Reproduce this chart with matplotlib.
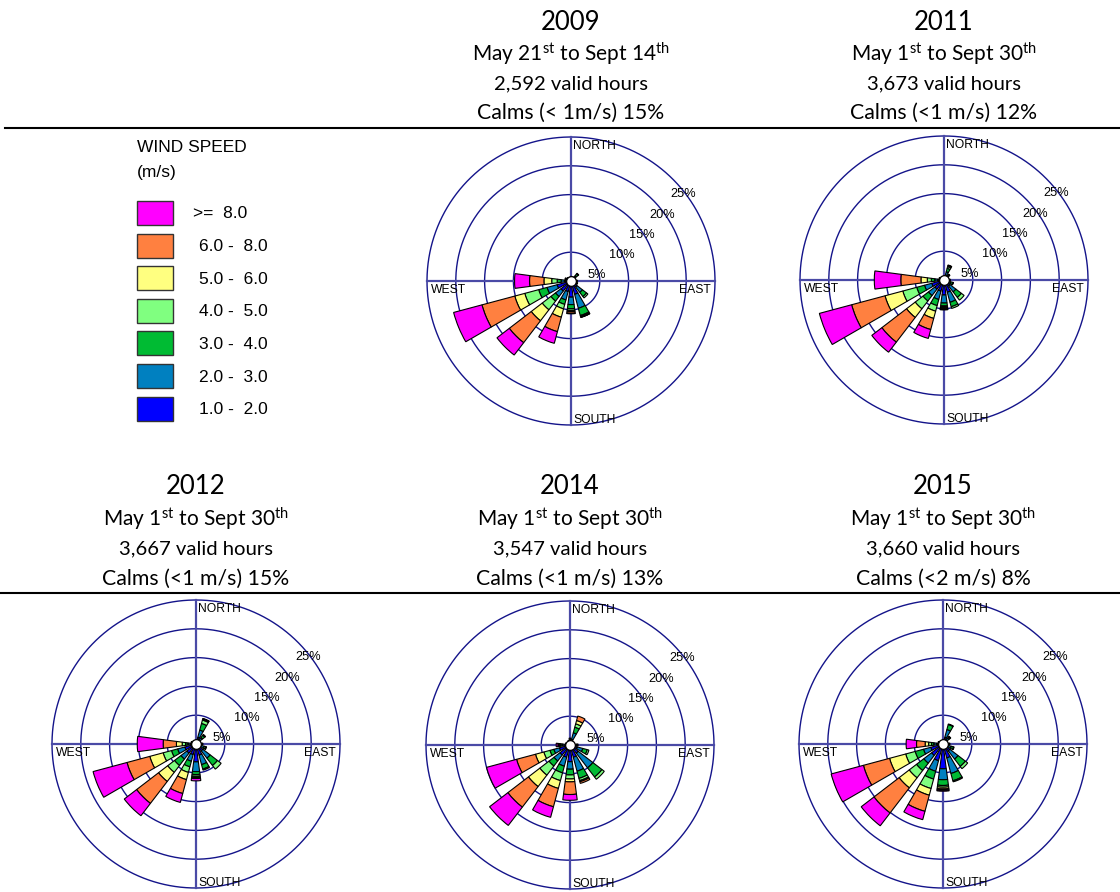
import numpy as np
import matplotlib
matplotlib.use("Agg")
import matplotlib.pyplot as plt
from matplotlib.patches import Rectangle
from matplotlib.lines import Line2D

plt.rcParams["mathtext.fontset"] = "custom"
plt.rcParams["mathtext.rm"] = "Lato"
plt.rcParams["mathtext.it"] = "Lato:italic"
plt.rcParams["mathtext.bf"] = "Lato:bold"

# ---------------- data ----------------
directions = ["N", "NNE", "NE", "ENE", "E", "ESE", "SE", "SSE",
              "S", "SSW", "SW", "WSW", "W", "WNW", "NW", "NNW"]
dir_angles = [0, 22.5, 45, 67.5, 90, 112.5, 135, 157.5,
              180, 202.5, 225, 247.5, 270, 292.5, 315, 337.5]
speed_labels = ["1.0 -  2.0", "2.0 -  3.0", "3.0 -  4.0", "4.0 -  5.0",
                "5.0 -  6.0", "6.0 -  8.0", ">=  8.0"]
speed_colors = ["#0000FF", "#0080C0", "#00BB33", "#80FF80",
                "#FFFF80", "#FF8040", "#FF00FF"]

# frequency (%) per direction (rows, N..NNW) and speed class (cols, 1-2 .. >=8)
freq_2009 = [
    [0.4, 0.3, 0.1, 0, 0, 0, 0],
    [0.4, 0.3, 0.1, 0, 0, 0, 0],
    [0.6, 0.6, 0.4, 0.1, 0, 0, 0],
    [0.4, 0.3, 0.1, 0, 0, 0, 0],
    [0.5, 0.4, 0.2, 0, 0, 0, 0],
    [0.6, 0.4, 0.2, 0, 0, 0, 0],
    [1.3, 1.2, 0.9, 0.3, 0, 0, 0],
    [2.4, 2.5, 1.3, 0.2, 0.1, 0.05, 0],
    [2.8, 1.3, 0.7, 0.3, 0.2, 0.3, 0.1],
    [1.9, 1.5, 0.8, 0.8, 1.5, 2.6, 2.1],
    [2.2, 1.2, 1.0, 1.9, 2.4, 4.8, 2.7],
    [2.5, 1.8, 1.5, 2.5, 1.8, 5.9, 5.1],
    [1.1, 0.6, 0.7, 0.95, 1.35, 2.5, 2.6],
    [0.5, 0.3, 0.2, 0.1, 0, 0, 0],
    [0.4, 0.3, 0.1, 0, 0, 0, 0],
    [0.4, 0.2, 0.1, 0, 0, 0, 0],
]
freq_2011 = [
    [0.4, 0.2, 0.1, 0, 0, 0, 0],
    [0.8, 0.7, 0.6, 0.3, 0.2, 0.1, 0],
    [0.5, 0.4, 0.3, 0.1, 0, 0, 0],
    [0.4, 0.3, 0.1, 0, 0, 0, 0],
    [0.5, 0.4, 0.2, 0, 0, 0, 0],
    [0.7, 0.5, 0.4, 0.1, 0, 0, 0],
    [1.3, 1.3, 1.2, 0.6, 0, 0, 0],
    [2.2, 1.8, 0.8, 0.3, 0, 0, 0],
    [2.6, 1.4, 0.5, 0.2, 0.2, 0.2, 0.1],
    [2.0, 1.5, 1.1, 1.0, 1.3, 2.0, 1.6],
    [2.0, 1.4, 1.2, 1.7, 1.9, 5.4, 2.2],
    [2.2, 1.3, 1.4, 2.5, 3.2, 6.0, 5.8],
    [1.1, 0.5, 0.6, 0.7, 1.1, 3.5, 4.6],
    [0.5, 0.3, 0.1, 0, 0, 0, 0],
    [0.4, 0.2, 0.1, 0, 0, 0, 0],
    [0.3, 0.2, 0.1, 0, 0, 0, 0],
]
freq_2012 = [
    [0.4, 0.2, 0.1, 0, 0, 0, 0],
    [1.2, 1.3, 1.2, 0.6, 0.2, 0.1, 0],
    [0.8, 0.6, 0.5, 0.2, 0, 0, 0],
    [0.4, 0.3, 0.1, 0, 0, 0, 0],
    [0.6, 0.4, 0.2, 0, 0, 0, 0],
    [0.9, 0.6, 0.3, 0.1, 0, 0, 0],
    [1.5, 1.6, 1.6, 0.8, 0, 0, 0],
    [2.0, 1.7, 0.8, 0.2, 0, 0, 0],
    [3.1, 1.7, 0.5, 0.3, 0.2, 0.2, 0.4],
    [1.9, 1.2, 1.0, 1.0, 1.3, 2.5, 1.6],
    [2.0, 1.3, 1.4, 1.5, 2.0, 4.8, 2.7],
    [2.0, 1.3, 1.1, 1.5, 2.4, 4.1, 6.1],
    [0.9, 0.5, 0.4, 0.6, 1.0, 2.3, 4.5],
    [0.5, 0.3, 0.1, 0, 0, 0, 0],
    [0.4, 0.2, 0.1, 0, 0, 0, 0],
    [0.3, 0.2, 0.1, 0, 0, 0, 0],
]
freq_2014 = [
    [0.6, 0.4, 0.2, 0, 0, 0, 0],
    [1.0, 1.2, 1.0, 0.6, 0.6, 0.8, 0],
    [0.4, 0.3, 0.1, 0, 0, 0, 0],
    [0.4, 0.3, 0.1, 0, 0, 0, 0],
    [0.6, 0.5, 0.3, 0, 0, 0, 0],
    [1.3, 1.0, 0.8, 0.3, 0, 0, 0],
    [1.8, 3.2, 2.0, 0.5, 0, 0, 0],
    [2.2, 2.5, 1.3, 0.4, 0.2, 0.3, 0],
    [2.9, 1.3, 1.0, 0.7, 0.5, 2.2, 1.0],
    [2.2, 1.6, 1.2, 1.4, 1.4, 3.3, 1.9],
    [2.2, 1.3, 1.1, 2.0, 2.5, 4.5, 4.0],
    [1.9, 1.0, 0.7, 1.1, 1.5, 3.4, 5.4],
    [0.8, 0.5, 0.3, 0.2, 0.1, 0.2, 0.3],
    [0.4, 0.3, 0.1, 0, 0, 0, 0],
    [0.3, 0.2, 0.1, 0, 0, 0, 0],
    [0.4, 0.3, 0.1, 0, 0, 0, 0],
]
freq_2015 = [
    [0.4, 0.3, 0.1, 0, 0, 0, 0],
    [1.2, 1.4, 0.9, 0.1, 0, 0, 0],
    [0.7, 0.6, 0.3, 0.1, 0, 0, 0],
    [0.4, 0.3, 0.1, 0, 0, 0, 0],
    [0.6, 0.4, 0.2, 0, 0, 0, 0],
    [0.9, 0.6, 0.4, 0.1, 0, 0, 0],
    [1.5, 1.8, 1.6, 0.5, 0, 0, 0],
    [2.5, 2.8, 1.3, 0.2, 0, 0, 0],
    [4.3, 1.9, 1.0, 0.3, 0.3, 0.2, 0.2],
    [3.0, 1.9, 1.4, 1.7, 1.2, 2.9, 1.5],
    [2.5, 1.7, 1.6, 1.6, 2.2, 5.5, 2.8],
    [2.2, 1.3, 1.5, 1.7, 2.9, 4.7, 5.8],
    [1.1, 0.5, 0.4, 0.5, 0.6, 1.5, 1.8],
    [0.5, 0.3, 0.1, 0, 0, 0, 0],
    [0.4, 0.2, 0.1, 0, 0, 0, 0],
    [0.3, 0.2, 0.1, 0, 0, 0, 0],
]

years = ["2009", "2011", "2012", "2014", "2015"]
periods = [r"May 21$^{\mathrm{st}}$ to Sept 14$^{\mathrm{th}}$",
           r"May 1$^{\mathrm{st}}$ to Sept 30$^{\mathrm{th}}$",
           r"May 1$^{\mathrm{st}}$ to Sept 30$^{\mathrm{th}}$",
           r"May 1$^{\mathrm{st}}$ to Sept 30$^{\mathrm{th}}$",
           r"May 1$^{\mathrm{st}}$ to Sept 30$^{\mathrm{th}}$"]
valid_hours = ["2,592 valid hours", "3,673 valid hours", "3,667 valid hours",
               "3,547 valid hours", "3,660 valid hours"]
calms = ["Calms (< 1m/s) 15%", "Calms (<1 m/s) 12%", "Calms (<1 m/s) 15%",
         "Calms (<1 m/s) 13%", "Calms (<2 m/s) 8%"]
all_freqs = [freq_2009, freq_2011, freq_2012, freq_2014, freq_2015]
ring_values = [5, 10, 15, 20, 25]

# ---------------- layout ----------------
W, H = 1120, 892
fig = plt.figure(figsize=(W / 100, H / 100), dpi=100)
fig.patch.set_facecolor("white")

centers = [(571, 281), (944, 280), (196, 744), (570, 745), (943, 744)]
title_y = [(22, 54, 84, 113), (22, 54, 84, 113), (487, 519, 549, 579),
           (487, 519, 549, 579), (487, 519, 549, 579)]
R = 144  # px radius of the 25% ring
pct_offsets = [(26, -6), (51, -26), (71, -46), (91, -66), (112, -87)]

TFONT = "Lato"
LFONT = "Liberation Sans"


def fx(x):
    return x / W


def fy(y):
    return 1 - y / H


def draw_rose(cx, cy, freq):
    ax = fig.add_axes([fx(cx - R), fy(cy + R), 2 * R / W, 2 * R / H],
                      projection="polar")
    ax.set_theta_zero_location("N")
    ax.set_theta_direction(-1)
    ax.set_ylim(0, ring_values[-1])
    ax.axis("off")
    th = np.linspace(0, 2 * np.pi, 500)
    for r in ring_values:
        ax.plot(th, np.full_like(th, r), color="#14148a", lw=1.0,
                clip_on=False, zorder=1)
    for a in [0, 90, 180, 270]:
        ax.plot([np.deg2rad(a)] * 2, [0, ring_values[-1]], color="#4a4aa6",
                lw=1.6, clip_on=False, zorder=1)
    theta = np.deg2rad(dir_angles)
    data = np.array(freq, dtype=float)
    bottoms = np.zeros(len(directions))
    for k in range(len(speed_labels)):
        h = data[:, k]
        m = h > 0
        ax.bar(theta[m], h[m], width=np.deg2rad(15), bottom=bottoms[m],
               color=speed_colors[k], edgecolor="black", linewidth=0.8,
               zorder=3, clip_on=False)
        bottoms += h
    ax.plot([0], [0], "o", ms=7, mfc="white", mec="black", mew=0.9,
            zorder=6, clip_on=False)
    # compass labels
    fig.text(fx(cx + 2), fy(cy - 135), "NORTH", fontsize=8.7, family=LFONT,
             ha="left", va="center")
    fig.text(fx(cx + 2), fy(cy + 139), "SOUTH", fontsize=8.7, family=LFONT,
             ha="left", va="center")
    fig.text(fx(cx - 140), fy(cy + 9), "WEST", fontsize=8.7, family=LFONT,
             ha="left", va="center")
    fig.text(fx(cx + 140), fy(cy + 9), "EAST", fontsize=8.7, family=LFONT,
             ha="right", va="center")
    for (dx, dy), r in zip(pct_offsets, ring_values):
        fig.text(fx(cx + dx), fy(cy + dy), f"{r}%", fontsize=9.2,
                 family=LFONT, ha="center", va="center")


for i, yr in enumerate(years):
    cx, cy = centers[i]
    draw_rose(cx, cy, all_freqs[i])
    ty = title_y[i]
    fig.text(fx(cx), fy(ty[0]), yr, fontsize=18.5, family=TFONT,
             ha="center", va="center")
    fig.text(fx(cx), fy(ty[1]), periods[i], fontsize=15, family=TFONT,
             ha="center", va="center")
    fig.text(fx(cx), fy(ty[2]), valid_hours[i], fontsize=14.6, family=TFONT,
             ha="center", va="center")
    fig.text(fx(cx), fy(ty[3]), calms[i], fontsize=15.3, family=TFONT,
             ha="center", va="center")

# horizontal rules
fig.add_artist(Line2D([fx(5), fx(1120)], [fy(128), fy(128)], color="black",
                      lw=1.5))
fig.add_artist(Line2D([fx(0), fx(1120)], [fy(593), fy(593)], color="black",
                      lw=1.5))

# legend
fig.text(fx(137), fy(147), "WIND SPEED", fontsize=12.5, family=LFONT,
         ha="left", va="center")
fig.text(fx(137), fy(173), "(m/s)", fontsize=12.5, family=LFONT,
         ha="left", va="center")
for j, k in enumerate(range(len(speed_labels) - 1, -1, -1)):
    top = 201 + j * 32.6
    fig.add_artist(Rectangle((fx(137), fy(top + 24)), 36 / W, 24 / H,
                             facecolor=speed_colors[k], edgecolor="#333333",
                             lw=1.0, transform=fig.transFigure))
    lx = 193 if k == len(speed_labels) - 1 else 199
    fig.text(fx(lx), fy(top + 13), speed_labels[k], fontsize=12.5,
             family=LFONT, ha="left", va="center")

fig.savefig("out.png", dpi=100)
